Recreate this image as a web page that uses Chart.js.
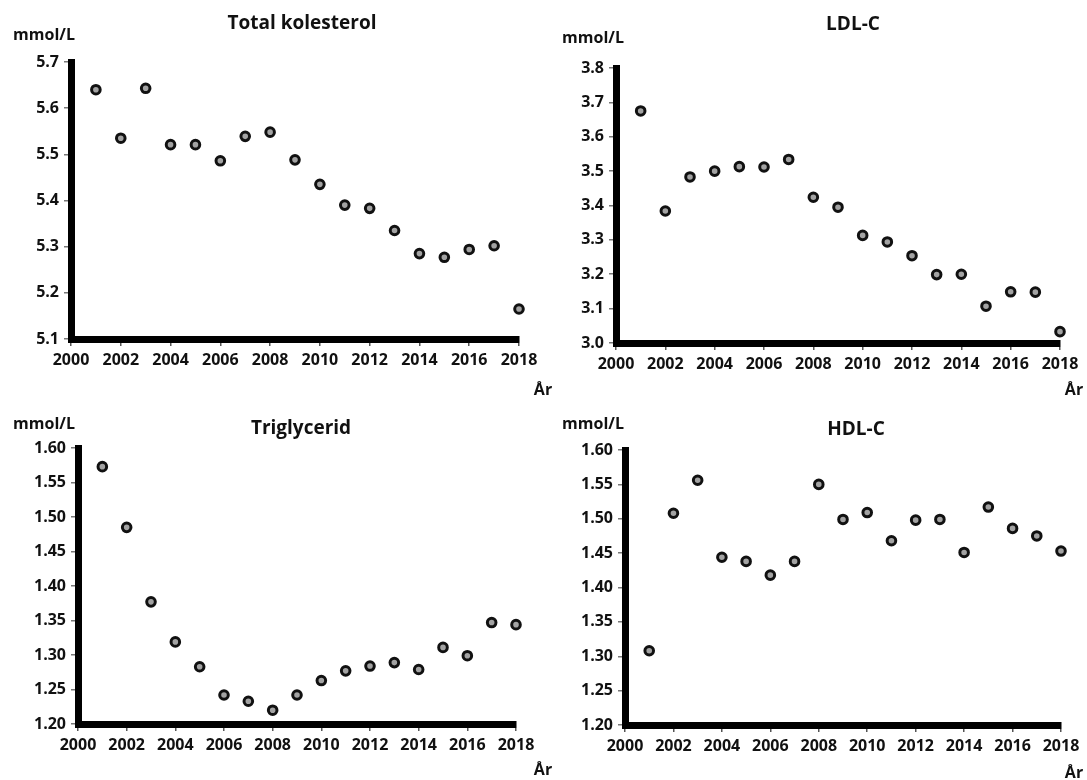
<!DOCTYPE html>
<html>
<head>
<meta charset="utf-8">
<script src="https://cdn.jsdelivr.net/npm/chart.js@4/dist/chart.umd.min.js"></script>
<style>
  body { margin: 0; background: #fff; }
  #wrap { position: relative; width: 1087px; height: 780px; overflow: hidden; }
  canvas { position: absolute; }
</style>
</head>
<body>
<div id="wrap">
  <canvas id="totalChart" width="560" height="400" style="left:0;top:0"></canvas>
  <canvas id="ldlChart" width="544" height="400" style="left:543px;top:0"></canvas>
  <canvas id="tgChart" width="560" height="390" style="left:0;top:390px"></canvas>
  <canvas id="hdlChart" width="544" height="390" style="left:543px;top:390px"></canvas>
</div>
<script>
var years = [2001, 2002, 2003, 2004, 2005, 2006, 2007, 2008, 2009, 2010, 2011, 2012, 2013, 2014, 2015, 2016, 2017, 2018];

var totalValues = [5.640, 5.535, 5.643, 5.521, 5.521, 5.486, 5.539, 5.548, 5.488, 5.435, 5.390, 5.383, 5.335, 5.285, 5.277, 5.294, 5.302, 5.165];
var ldlValues = [3.675, 3.384, 3.483, 3.500, 3.513, 3.512, 3.534, 3.424, 3.395, 3.313, 3.294, 3.254, 3.199, 3.200, 3.107, 3.149, 3.148, 3.033];
var tgValues = [1.573, 1.485, 1.377, 1.319, 1.283, 1.242, 1.233, 1.220, 1.242, 1.263, 1.277, 1.284, 1.289, 1.279, 1.311, 1.299, 1.347, 1.344];
var hdlValues = [1.308, 1.508, 1.556, 1.444, 1.438, 1.418, 1.438, 1.550, 1.499, 1.509, 1.468, 1.498, 1.499, 1.451, 1.517, 1.486, 1.475, 1.453];

var xTicks = ['2000', '2002', '2004', '2006', '2008', '2010', '2012', '2014', '2016', '2018'];
var totalTicks = ['5.1', '5.2', '5.3', '5.4', '5.5', '5.6', '5.7'];
var ldlTicks = ['3.0', '3.1', '3.2', '3.3', '3.4', '3.5', '3.6', '3.7', '3.8'];
var tgTicks = ['1.20', '1.25', '1.30', '1.35', '1.40', '1.45', '1.50', '1.55', '1.60'];
var hdlTicks = ['1.20', '1.25', '1.30', '1.35', '1.40', '1.45', '1.50', '1.55', '1.60'];

Chart.defaults.font.family = '"Open Sans", "DejaVu Sans", sans-serif';
Chart.defaults.color = '#111';

// draws title, unit and "År" for a panel
var panelText = {
  id: 'panelText',
  afterDraw: function (chart, args, opts) {
    var c = chart.ctx;
    c.save();
    c.fillStyle = '#111';
    c.textAlign = 'center';
    c.textBaseline = 'middle';
    c.font = 'bold 19px "Open Sans", sans-serif';
    c.fillText(opts.title, opts.titleAt[0], opts.titleAt[1]);
    c.font = 'bold 16px "Open Sans", sans-serif';
    c.fillText('mmol/L', opts.unitAt[0], opts.unitAt[1]);
    c.fillText('År', opts.arAt[0], opts.arAt[1]);
    c.restore();
  }
};

function makePanel(id, values, yTicks, padding, text) {
  var ctx = document.getElementById(id);
  var points = years.map(function (y, i) { return {x: y, y: values[i]}; });
  return new Chart(ctx, {
    type: 'scatter',
    data: {
      datasets: [{
        data: points,
        pointStyle: 'circle',
        pointRadius: 4.3,
        pointBorderWidth: 3,
        pointBackgroundColor: '#a3a3a3',
        pointBorderColor: '#111',
        clip: false
      }]
    },
    options: {
      responsive: false,
      animation: false,
      devicePixelRatio: 1,
      events: [],
      layout: {padding: padding},
      scales: {
        x: {
          type: 'linear',
          min: 2000,
          max: 2018,
          afterFit: function (scale) { scale.height = 40; },
          afterBuildTicks: function (scale) {
            scale.ticks = xTicks.map(function (t) { return {value: parseFloat(t)}; });
          },
          ticks: {
            padding: 5,
            maxRotation: 0,
            autoSkip: false,
            font: {size: 16, weight: 'bold'},
            callback: function (v, i) { return xTicks[i]; }
          },
          grid: {drawOnChartArea: false, drawTicks: true, tickLength: 7, color: '#555', lineWidth: 1.5},
          border: {display: true, width: 7, color: '#000'}
        },
        y: {
          min: parseFloat(yTicks[0]),
          max: parseFloat(yTicks[yTicks.length - 1]),
          afterFit: function (scale) { scale.width = 60; },
          afterBuildTicks: function (scale) {
            scale.ticks = yTicks.map(function (t) { return {value: parseFloat(t)}; });
          },
          ticks: {
            padding: 5,
            autoSkip: false,
            font: {size: 16, weight: 'bold'},
            callback: function (v, i) { return yTicks[i]; }
          },
          grid: {drawOnChartArea: false, drawTicks: true, tickLength: 7, color: '#777', lineWidth: 1.5},
          border: {display: true, width: 7, color: '#000'}
        }
      },
      plugins: {
        legend: {display: false},
        tooltip: {enabled: false},
        panelText: text
      }
    },
    plugins: [panelText]
  });
}

makePanel('totalChart', totalValues, totalTicks,
  {left: 11, right: 41, top: 62, bottom: 21},
  {title: 'Total kolesterol', titleAt: [302, 24], unitAt: [44, 35], arAt: [543, 390]});

makePanel('ldlChart', ldlValues, ldlTicks,
  {left: 13, right: 27, top: 68, bottom: 17},
  {title: 'LDL-C', titleAt: [310, 25], unitAt: [50, 38], arAt: [531, 390]});

makePanel('tgChart', tgValues, tgTicks,
  {left: 18, right: 44, top: 58, bottom: 16},
  {title: 'Triglycerid', titleAt: [301, 39], unitAt: [44, 34], arAt: [543, 380]});

makePanel('hdlChart', hdlValues, hdlTicks,
  {left: 22, right: 26, top: 60, bottom: 15},
  {title: 'HDL-C', titleAt: [313, 40], unitAt: [50, 34], arAt: [531, 383]});
</script>
</body>
</html>
